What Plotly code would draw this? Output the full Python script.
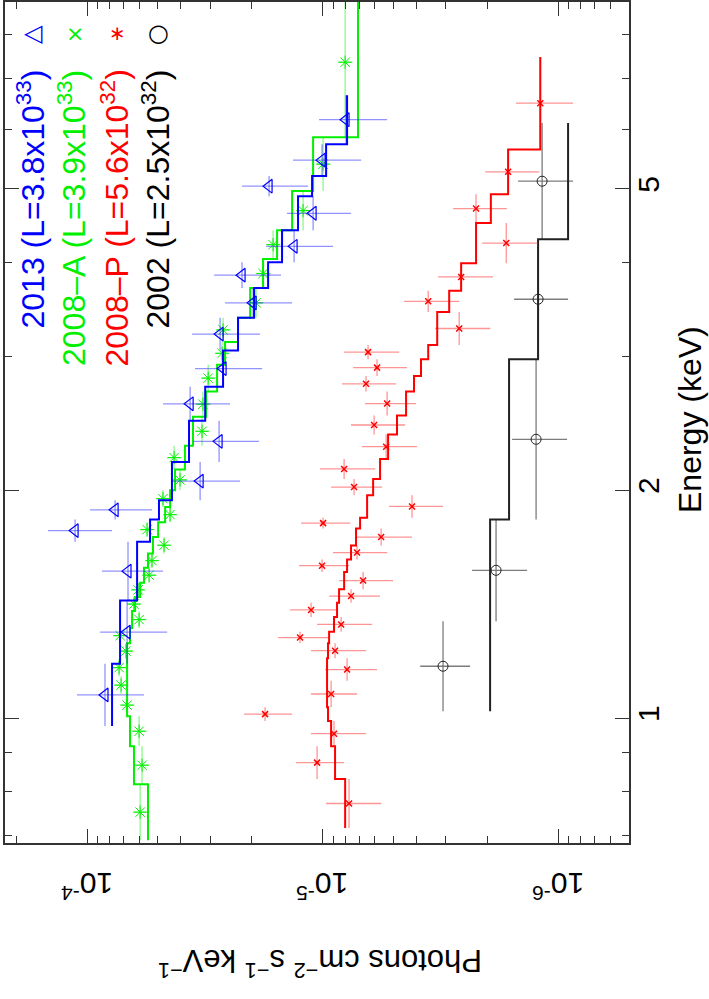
import numpy as np
import plotly.graph_objects as go

# ---------------- data (energy in keV, flux in photons cm^-2 s^-1 keV^-1) -------------
# 2013 (blue)
blue_edges = [0.976, 1.18, 1.43, 1.71, 1.83, 1.94, 2.18, 2.47, 2.74, 3.06, 3.38, 3.70,
              4.00, 4.41, 4.89, 5.20, 5.73, 6.65]
blue_flux = [8.39e-5, 6.76e-5, 6.70e-5, 1.124e-4, 7.60e-5, 3.31e-5, 2.75e-5, 3.65e-5,
             2.645e-5, 2.723e-5, 1.972e-5, 2.197e-5, 1.321e-5, 1.097e-5, 1.687e-5,
             1.005e-5, 7.95e-6]
blue_flux_hi = [1.103e-4, 8.80e-5, 8.64e-5, 1.464e-4, 9.71e-5, 4.36e-5, 3.55e-5, 4.76e-5,
                3.48e-5, 3.58e-5, 2.594e-5, 2.888e-5, 1.737e-5, 1.415e-5, 2.197e-5,
                1.335e-5, 1.035e-5]
blue_flux_lo = [5.73e-5, 4.57e-5, 4.76e-5, 7.83e-5, 5.30e-5, 2.24e-5, 1.86e-5, 2.471e-5,
                1.806e-5, 1.842e-5, 1.347e-5, 1.501e-5, 9.03e-6, 7.57e-6, 1.152e-5,
                6.86e-6, 5.32e-6]
blue_model = [7.83e-5, 7.24e-5, 6.13e-5, 5.40e-5, 4.95e-5, 4.36e-5, 3.69e-5, 3.15e-5,
              2.645e-5, 2.285e-5, 1.953e-5, 1.703e-5, 1.486e-5, 1.271e-5, 1.108e-5,
              9.66e-6, 7.87e-6]

# 2008-A (green)
green_edges = [0.690, 0.818, 0.918, 1.006, 1.076, 1.136, 1.197, 1.256, 1.315, 1.385, 1.445,
               1.51, 1.58, 1.65, 1.735, 1.815, 1.90, 2.00, 2.13, 2.29, 2.50, 2.70, 2.93,
               3.14, 3.38, 3.70, 4.04, 4.41, 4.97, 5.85, 9.24]
green_flux = [5.95e-5, 5.84e-5, 6.01e-5, 6.76e-5, 7.17e-5, 7.31e-5, 6.83e-5, 7.24e-5,
              6.01e-5, 6.32e-5, 6.07e-5, 5.45e-5, 5.30e-5, 4.71e-5, 5.56e-5, 4.44e-5,
              4.76e-5, 4.03e-5, 4.27e-5, 3.25e-5, 3.22e-5, 3.06e-5, 2.671e-5, 2.645e-5,
              1.915e-5, 1.789e-5, 1.622e-5, 1.210e-5, 9.95e-6, 8.02e-6]
green_err = [4.2e-6, 4.1e-6, 4.2e-6, 4.7e-6, 5.0e-6, 5.1e-6, 4.8e-6, 5.1e-6, 4.2e-6, 4.4e-6,
             4.2e-6, 3.8e-6, 3.7e-6, 3.3e-6, 3.9e-6, 3.1e-6, 3.3e-6, 2.8e-6, 3.0e-6, 2.3e-6,
             2.3e-6, 2.1e-6, 1.9e-6, 1.9e-6, 1.3e-6, 1.3e-6, 1.1e-6, 8.5e-7, 7.0e-7, 5.6e-7]
green_model = [5.51e-5, 6.32e-5, 6.57e-5, 6.76e-5, 6.76e-5, 6.76e-5, 6.76e-5, 6.57e-5,
               6.44e-5, 6.25e-5, 5.95e-5, 5.73e-5, 5.51e-5, 5.25e-5, 4.99e-5, 4.66e-5,
               4.44e-5, 4.23e-5, 3.84e-5, 3.55e-5, 3.12e-5, 2.805e-5, 2.594e-5, 2.285e-5,
               2.03e-5, 1.789e-5, 1.560e-5, 1.347e-5, 1.097e-5, 7.07e-6]

# 2008-P (red)
red_edges = [0.716, 0.831, 0.918, 0.991, 1.034, 1.12, 1.20, 1.256, 1.30, 1.36, 1.42, 1.48,
             1.56, 1.62, 1.69, 1.78, 1.84, 1.97, 2.07, 2.20, 2.37, 2.51, 2.70, 2.83, 2.98,
             3.11, 3.44, 3.67, 3.99, 4.51, 4.92, 5.64, 7.47]
red_flux = [7.72e-6, 1.055e-5, 8.94e-6, 1.754e-5, 9.20e-6, 7.87e-6, 8.85e-6, 1.246e-5,
            8.34e-6, 1.119e-5, 7.57e-6, 6.73e-6, 1.005e-5, 7.14e-6, 5.64e-6, 9.95e-6,
            4.17e-6, 7.35e-6, 8.10e-6, 5.37e-6, 6.04e-6, 5.32e-6, 6.54e-6, 5.87e-6,
            6.41e-6, 2.63e-6, 3.56e-6, 2.58e-6, 1.66e-6, 2.23e-6, 1.63e-6, 1.19e-6]
red_flux_hi = [9.66e-6, 1.295e-5, 1.119e-5, 2.154e-5, 1.119e-5, 9.76e-6, 1.119e-5, 1.545e-5,
               1.055e-5, 1.374e-5, 9.38e-6, 8.51e-6, 1.258e-5, 9.03e-6, 7.28e-6, 1.234e-5,
               5.22e-6, 9.20e-6, 1.025e-5, 6.80e-6, 7.57e-6, 6.60e-6, 8.26e-6, 7.42e-6,
               8.10e-6, 3.33e-6, 4.51e-6, 3.23e-6, 2.10e-6, 2.79e-6, 2.04e-6, 1.51e-6]
red_flux_lo = [5.64e-6, 8.10e-6, 6.54e-6, 1.347e-5, 7.14e-6, 5.87e-6, 6.54e-6, 9.38e-6,
               6.16e-6, 8.76e-6, 5.70e-6, 5.02e-6, 7.72e-6, 5.32e-6, 4.17e-6, 7.64e-6,
               3.08e-6, 5.59e-6, 5.98e-6, 3.97e-6, 4.46e-6, 4.01e-6, 4.87e-6, 4.38e-6,
               4.73e-6, 1.94e-6, 2.63e-6, 1.89e-6, 1.22e-6, 1.65e-6, 1.20e-6, 8.64e-7]
red_model = [8.02e-6, 8.85e-6, 9.20e-6, 9.48e-6, 9.57e-6, 9.57e-6, 9.48e-6, 9.38e-6,
             8.94e-6, 8.68e-6, 8.51e-6, 8.10e-6, 7.87e-6, 7.57e-6, 7.21e-6, 6.93e-6,
             6.47e-6, 6.10e-6, 5.70e-6, 5.27e-6, 4.83e-6, 4.42e-6, 4.09e-6, 3.82e-6,
             3.56e-6, 3.26e-6, 2.90e-6, 2.58e-6, 2.23e-6, 1.93e-6, 1.63e-6, 1.19e-6]

# 2002 (black)
black_edges = [1.021, 1.343, 1.83, 2.98, 4.29, 6.11]
black_flux = [3.08e-6, 1.834e-6, 1.240e-6, 1.216e-6, 1.169e-6]
black_flux_hi = [3.85e-6, 2.318e-6, 1.568e-6, 1.537e-6, 1.479e-6]
black_flux_lo = [2.364e-6, 1.354e-6, 9.16e-7, 9.07e-7, 8.64e-7]
black_model = [1.944e-6, 1.944e-6, 1.615e-6, 1.216e-6, 9.07e-7]

legend_labels = ["2013 (L=3.8x10<sup>33</sup>)", "2008\u2013A (L=3.9x10<sup>33</sup>)",
                 "2008\u2013P (L=5.6x10<sup>32</sup>)", "2002 (L=2.5x10<sup>32</sup>)"]
legend_symbols = ["\u25C1", "\u00D7", "\u2217", "\u25CB"]

flux_ticks = [1e-4, 1e-5, 1e-6]
flux_ticktext = ["10<sup>-4</sup>", "10<sup>-5</sup>", "10<sup>-6</sup>"]
energy_ticks = [1, 2, 5]
energy_ticktext = ["1", "2", "5"]
flux_range = [2.23e-4, 5.0e-7]
energy_range = [0.684, 8.83]

FONT = "Liberation Sans, Arial, sans-serif"
GREEN = "#00f000"

fig = go.Figure()


def add_series(edges, flux, hi, lo, model, color, ecolor, symbol, msize, mwidth, lwidth):
    edges = np.array(edges)
    flux = np.array(flux)
    hi = np.array(hi)
    lo = np.array(lo)
    ec = np.sqrt(edges[:-1] * edges[1:])
    fig.add_trace(go.Scatter(
        x=flux, y=ec, mode="markers",
        marker=dict(symbol=symbol, size=msize, color=color, line=dict(width=mwidth, color=color)),
        error_x=dict(type="data", symmetric=False, array=hi - flux, arrayminus=flux - lo,
                     color=ecolor, thickness=1.3, width=0),
        error_y=dict(type="data", symmetric=False, array=edges[1:] - ec,
                     arrayminus=ec - edges[:-1], color=ecolor, thickness=1.3, width=0),
        showlegend=False, hoverinfo="skip"))
    xs, ys = [], []
    for i, m in enumerate(model):
        xs += [m, m]
        ys += [edges[i], edges[i + 1]]
    fig.add_trace(go.Scatter(x=xs, y=ys, mode="lines",
                             line=dict(color=color, width=lwidth),
                             showlegend=False, hoverinfo="skip"))


add_series(black_edges, black_flux, black_flux_hi, black_flux_lo, black_model,
           "#222222", "rgba(110,110,110,0.9)", "circle-open", 10, 1, 2)
add_series(red_edges, red_flux, red_flux_hi, red_flux_lo, red_model,
           "#ff0000", "rgba(255,60,60,0.55)", "x-thin-open", 6, 1.5, 2)
gl = np.array(green_flux)
ge = np.array(green_err)
add_series(green_edges, green_flux, list(gl + ge), list(gl - ge), green_model,
           GREEN, "rgba(0,235,0,0.45)", "asterisk-open", 11, 1, 2)
add_series(blue_edges, blue_flux, blue_flux_hi, blue_flux_lo, blue_model,
           "#0000ff", "rgba(40,40,255,0.5)", "triangle-left-open", 12, 1.2, 2)

axis_common = dict(
    type="log", showgrid=False, zeroline=False, showline=True, linecolor="#333333",
    linewidth=1.5, mirror="allticks", ticks="inside", ticklen=14, tickwidth=1.2,
    tickcolor="#333333", tickfont=dict(family=FONT, size=30, color="black"),
    automargin=False,
)

fig.update_xaxes(
    **axis_common,
    range=[np.log10(flux_range[0]), np.log10(flux_range[1])],
    tickmode="array", tickvals=flux_ticks, ticktext=flux_ticktext, showticklabels=False,
    minor=dict(tickvals=[2e-4, 9e-5, 8e-5, 7e-5, 6e-5, 5e-5, 4e-5, 3e-5, 2e-5,
                         9e-6, 8e-6, 7e-6, 6e-6, 5e-6, 4e-6, 3e-6, 2e-6,
                         9e-7, 8e-7, 7e-7, 6e-7, 5e-7],
               ticklen=7, ticks="inside", tickcolor="#333333", tickwidth=1.2),
)
fig.update_yaxes(
    **axis_common,
    side="right",
    range=[np.log10(energy_range[0]), np.log10(energy_range[1])],
    tickmode="array", tickvals=energy_ticks, ticktext=energy_ticktext, tickangle=-90,
    ticklabelstandoff=-8,
    minor=dict(tickvals=[0.7, 0.8, 0.9, 3, 4, 6, 7, 8],
               ticklen=7, ticks="inside", tickcolor="#333333", tickwidth=1.2),
)

W, H = 709, 999
ml, mr, mt, mb = 5, 80, 2, 156
pw, ph = W - ml - mr, H - mt - mb


def px(x):
    return (x - ml) / pw


def py(y):
    return 1 - (y - mt) / ph


annotations = []
# flux tick labels (upside down, as in the rotated original)
for v, t in zip(flux_ticks, flux_ticktext):
    annotations.append(dict(text=t, xref="x", yref="paper", x=np.log10(v), y=py(886),
                            xanchor="center", yanchor="middle", textangle=180,
                            showarrow=False, font=dict(family=FONT, size=30, color="black")))

colors = ["#0000ff", GREEN, "#ff0000", "#000000"]
xs_leg = [30, 72, 114, 155]
sym_sizes = [24, 22, 20, 24]
for lab, sym, c, xx, ss in zip(legend_labels, legend_symbols, colors, xs_leg, sym_sizes):
    annotations.append(dict(text=lab, xref="paper", yref="paper", x=px(xx), y=py(68),
                            xanchor="center", yanchor="top", textangle=-90, showarrow=False,
                            font=dict(family=FONT, size=32, color=c)))
    annotations.append(dict(text=sym, xref="paper", yref="paper", x=px(xx + 3), y=py(33),
                            xanchor="center", yanchor="middle", showarrow=False,
                            font=dict(family="DejaVu Sans", size=ss, color=c)))

annotations.append(dict(text="Energy (keV)", xref="paper", yref="paper", x=px(690),
                        y=py(420), xanchor="center", yanchor="middle", textangle=-90,
                        showarrow=False, font=dict(family=FONT, size=32, color="black")))
annotations.append(dict(text="Photons cm<sup>\u22122</sup> s<sup>\u22121</sup> keV<sup>\u22121</sup>",
                        xref="paper", yref="paper", x=px(320), y=py(963), xanchor="center",
                        yanchor="middle", textangle=180, showarrow=False,
                        font=dict(family=FONT, size=31, color="black")))

fig.update_layout(
    width=W, height=H, margin=dict(l=ml, r=mr, t=mt, b=mb, autoexpand=False),
    plot_bgcolor="white", paper_bgcolor="white", showlegend=False,
    annotations=annotations,
)

fig.write_html("out.html", config={"displayModeBar": False},
               post_script="document.body.style.margin='0px';")
